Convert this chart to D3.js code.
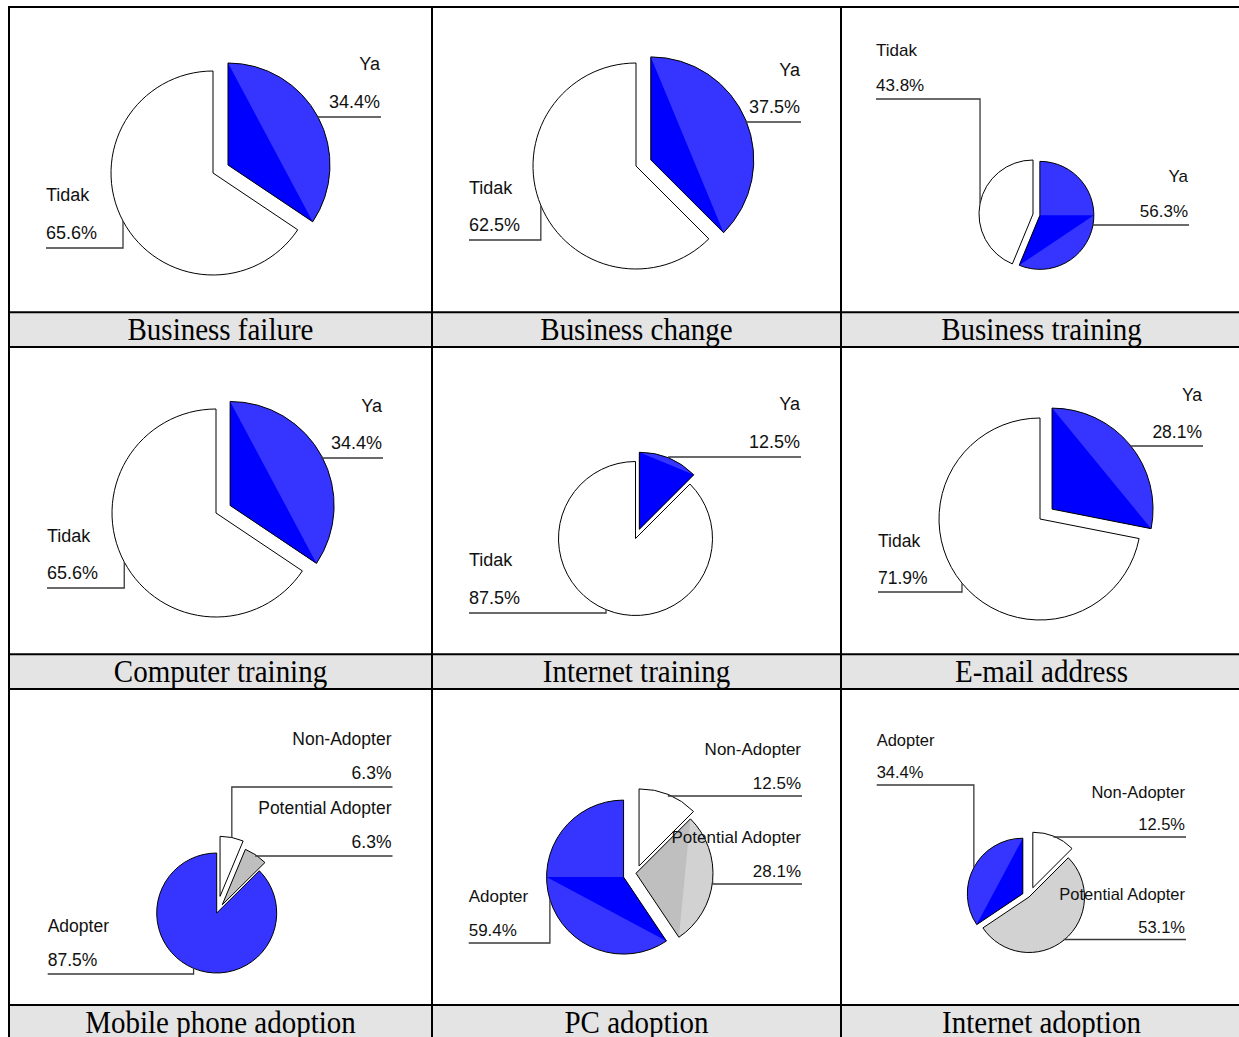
<!DOCTYPE html>
<html>
<head>
<meta charset="utf-8">
<script src="https://cdn.jsdelivr.net/npm/d3@7"></script>
<style>
  html, body { margin: 0; padding: 0; background: #fff; }
  svg { display: block; }
</style>
</head>
<body>
<svg id="chart" width="1239" height="1037"></svg>
<script>
// ---------------- DATA ----------------
const titles = [
  "Business failure", "Business change", "Business training",
  "Computer training", "Internet training", "E-mail address",
  "Mobile phone adoption", "PC adoption", "Internet adoption"
];
const categories = [
  ["Ya", "Tidak"], ["Ya", "Tidak"], ["Ya", "Tidak"],
  ["Ya", "Tidak"], ["Ya", "Tidak"], ["Ya", "Tidak"],
  ["Non-Adopter", "Potential Adopter", "Adopter"],
  ["Non-Adopter", "Potential Adopter", "Adopter"],
  ["Non-Adopter", "Potential Adopter", "Adopter"]
];
const percentages = [
  [34.4, 65.6], [37.5, 62.5], [56.3, 43.8],
  [34.4, 65.6], [12.5, 87.5], [28.1, 71.9],
  [6.3, 6.3, 87.5], [12.5, 28.1, 59.4], [12.5, 53.1, 34.4]
];

// ---------------- LAYOUT / STYLE ----------------
const colX = [9, 432, 841, 1245];
const rowY = [7, 312.3, 347, 654.3, 689, 1005];
const titleBands = [[312.3, 347], [654.3, 689], [1005, 1045]];

const layout = [
  {cx:213,   cy:173,   r:102,  explode:[17,0],    side:["R","L"],     lineY:[117,248],       fs:18,   gap:[53,15.5], lx:46,    rx:381},
  {cx:636,   cy:166,   r:103,  explode:[16,0],    side:["R","L"],     lineY:[122,240],       fs:18,   gap:[52,15],   lx:469,   rx:801},
  {cx:1033,  cy:214,   r:54,   explode:[7,0],     side:["R","L"],     lineY:[225,99],        fs:17,   gap:[49,14],   lx:876,   rx:1189},
  {cx:216,   cy:513,   r:104,  explode:[16,0],    side:["R","L"],     lineY:[458,588],       fs:18,   gap:[52,15],   lx:47,    rx:383},
  {cx:635.5, cy:538.5, r:77,   explode:[10,0],    side:["R","L"],     lineY:[457,613],       fs:18,   gap:[53,15],   lx:469,   rx:801},
  {cx:1040,  cy:519,   r:101,  explode:[15.6,0],  side:["R","L"],     lineY:[446,592],       fs:17.5, gap:[51,14],   lx:878,   rx:1203},
  {cx:216.7, cy:913,   r:60,   explode:[17,10,0], side:["R","R","L"], lineY:[787,856,974],   fs:17.5, gap:[48,14],   lx:47.7,  rx:392.5},
  {cx:636,   cy:873.3, r:77,   explode:[8,0,13],  side:["R","R","L"], lineY:[796,884,943],   fs:17,   gap:[47,13],   lx:468.7, rx:802},
  {cx:1029,  cy:897,   r:55.5, explode:[10,0,7],  side:["R","R","L"], lineY:[837,939.5,785], fs:16.5, gap:[45,12.5], lx:876.7, rx:1186}
];

const sliceStyle = {
  "Ya":                {light:"#3535ff", solid:"#0000ff"},
  "Adopter":           {light:"#3535ff", solid:"#0000ff"},
  "Tidak":             {light:"#ffffff", solid:null},
  "Non-Adopter":       {light:"#ffffff", solid:null},
  "Potential Adopter": {light:"#d2d2d2", solid:"#bfbfbf"}
};
// solid (darker) triangle overrides in degrees: [from, to]; null = none
const shadeOverride = { "2-0":[90,"end"], "7-2":["start",270], "6-2":null };

// ---------------- DRAW ----------------
const svg = d3.select("#chart");
svg.append("rect").attr("width",1239).attr("height",1037).attr("fill","#fff");

// title bands
svg.selectAll("rect.band").data(titleBands).enter().append("rect")
  .attr("class","band")
  .attr("x", colX[0]).attr("y", d => d[0])
  .attr("width", 1239 - colX[0]).attr("height", d => d[1]-d[0])
  .attr("fill", "#e4e4e4");

const pie = d3.pie().sort(null).value(d => d);
const fmt = d3.format(".1f");
const toRad = deg => deg * Math.PI / 180;

layout.forEach((L, i) => {
  const g = svg.append("g");
  const arcs = pie(percentages[i]);
  const arc = d3.arc().innerRadius(0).outerRadius(L.r);
  const pt = (c, a, r) => [c[0] + r*Math.sin(a), c[1] - r*Math.cos(a)];

  const items = arcs.map((a, j) => {
    const mid = (a.startAngle + a.endAngle)/2;
    const c = [L.cx + L.explode[j]*Math.sin(mid), L.cy - L.explode[j]*Math.cos(mid)];
    return {a, j, mid, c, name: categories[i][j], value: percentages[i][j]};
  });

  // slices
  items.forEach(it => {
    const st = sliceStyle[it.name];
    const sg = g.append("g").attr("transform", `translate(${it.c[0]},${it.c[1]})`);
    sg.append("path").attr("d", arc(it.a)).attr("fill", st.light);
    if (st.solid) {
      const key = i + "-" + it.j;
      let t0 = it.a.startAngle, t1 = it.a.endAngle;
      let ok = (t1 - t0) <= Math.PI;
      if (key in shadeOverride) {
        const o = shadeOverride[key];
        if (o === null) ok = false;
        else {
          ok = true;
          t0 = o[0] === "start" ? it.a.startAngle : toRad(o[0]);
          t1 = o[1] === "end" ? it.a.endAngle : toRad(o[1]);
        }
      }
      if (ok) {
        const p0 = pt([0,0], t0, L.r), p1 = pt([0,0], t1, L.r);
        sg.append("path").attr("d", `M0,0L${p0[0]},${p0[1]}L${p1[0]},${p1[1]}Z`).attr("fill", st.solid);
      }
    }
    sg.append("path").attr("d", arc(it.a)).attr("fill","none")
      .attr("stroke","#000").attr("stroke-width",1).attr("stroke-linejoin","miter");
  });

  // leader lines
  items.forEach(it => {
    const m = pt(it.c, it.mid, L.r);
    const y = L.lineY[it.j];
    const ex = L.side[it.j] === "R" ? L.rx : L.lx;
    g.append("path")
      .attr("d", `M${m[0]},${m[1]}L${m[0]},${y}L${ex},${y}`)
      .attr("fill","none").attr("stroke","#3a3a3a").attr("stroke-width",1.3);
  });

  // labels
  items.forEach(it => {
    const y = L.lineY[it.j];
    const right = L.side[it.j] === "R";
    const tx = right ? L.rx - 1 : L.lx;
    const anchor = right ? "end" : "start";
    g.append("text").text(it.name)
      .attr("x", tx).attr("y", y - L.gap[0]).attr("dy","0.36em")
      .attr("text-anchor", anchor)
      .attr("font-family","'Liberation Sans', Arial, sans-serif")
      .attr("font-size", L.fs).attr("fill","#111");
    g.append("text").text(fmt(it.value) + "%")
      .attr("x", tx).attr("y", y - L.gap[1]).attr("dy","0.36em")
      .attr("text-anchor", anchor)
      .attr("font-family","'Liberation Sans', Arial, sans-serif")
      .attr("font-size", L.fs).attr("fill","#111");
  });

  // title
  const col = i % 3, row = Math.floor(i / 3);
  const band = titleBands[row];
  const tx = (colX[col] + Math.min(colX[col+1], 1242)) / 2;
  svg.append("text").text(titles[i])
    .attr("transform", `translate(${tx},${band[0] + 27.5}) scale(1,1.1)`)
    .attr("text-anchor","middle")
    .attr("font-family","'Liberation Serif', 'Times New Roman', serif")
    .attr("font-size", 29).attr("fill","#000");
});

// grid lines
const gl = svg.append("g").attr("stroke","#000").attr("stroke-width",2);
[colX[0], colX[1], colX[2]].forEach(x => {
  gl.append("line").attr("x1",x).attr("x2",x).attr("y1",rowY[0]-1).attr("y2",1037);
});
rowY.forEach(y => {
  gl.append("line").attr("x1",colX[0]-1).attr("x2",1239).attr("y1",y).attr("y2",y);
});
</script>
</body>
</html>
